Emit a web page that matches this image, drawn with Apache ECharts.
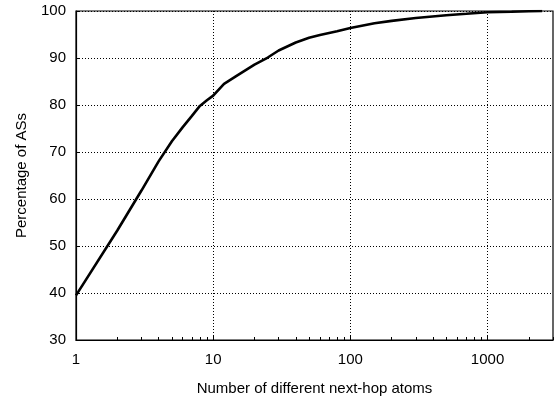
<!DOCTYPE html>
<html>
<head>
<meta charset="utf-8">
<script src="https://cdn.jsdelivr.net/npm/echarts@6/dist/echarts.min.js"></script>
<style>
html,body{margin:0;padding:0;background:#fff;}
#chart{width:558px;height:401px;}
</style>
</head>
<body>
<div id="chart"></div>
<script>
// Data (CDF)
const atoms = [1, 2, 3, 4, 5, 6, 7, 8, 9, 10, 12, 15, 20, 25, 30, 40, 50, 60, 80, 100, 150, 200, 300, 500, 700, 1000, 1500, 2000, 2500];
const percentAS = [39.5, 53.3, 61.8, 68.0, 72.3, 75.3, 77.7, 79.8, 81.0, 82.0, 84.5, 86.3, 88.6, 90.1, 91.6, 93.3, 94.3, 94.9, 95.7, 96.4, 97.4, 97.9, 98.5, 99.1, 99.4, 99.75, 99.85, 99.95, 100];
const xMajorTicks = [1, 10, 100, 1000];
const xMinorTicks = [2, 3, 4, 5, 6, 7, 8, 9, 20, 30, 40, 50, 60, 70, 80, 90, 200, 300, 400, 500, 600, 700, 800, 900, 2000, 3000];
const yTicks = [30, 40, 50, 60, 70, 80, 90, 100];

const FONT = 'Liberation Sans, Arial, Helvetica, sans-serif';
const chart = echarts.init(document.getElementById('chart'), null, {renderer: 'canvas'});
const seriesData = atoms.map((a, i) => [a, percentAS[i]]);

chart.setOption({
  animation: false,
  backgroundColor: '#fff',
  grid: {left: 76, top: 11, width: 477, height: 336, show: true, borderColor: '#000', borderWidth: 1.2, backgroundColor: 'transparent'},
  xAxis: [
    {
      type: 'log', logBase: 10, min: 1, max: 3000, position: 'bottom',
      name: 'Number of different next-hop atoms', nameLocation: 'middle', nameGap: 41,
      nameTextStyle: {fontFamily: FONT, fontSize: 15, color: '#000'},
      axisLine: {show: true, lineStyle: {color: '#000', width: 1.2}},
      axisTick: {show: true, inside: true, length: 5, customValues: xMajorTicks, lineStyle: {color: '#000', width: 1}},
      axisLabel: {customValues: xMajorTicks, formatter: v => String(v), fontFamily: FONT, fontSize: 15, color: '#000', margin: 12},
      splitLine: {show: true, lineStyle: {color: '#000', width: 1, type: [1, 2]}},
      minorTick: {show: false}
    },
    {
      type: 'log', logBase: 10, min: 1, max: 3000, position: 'bottom',
      axisLine: {show: false},
      axisTick: {show: true, inside: true, length: 3, customValues: xMinorTicks, lineStyle: {color: '#000', width: 1}},
      axisLabel: {show: false},
      splitLine: {show: false}
    }
  ],
  yAxis: {
    type: 'value', min: 30, max: 100, interval: 10,
    name: 'Percentage of ASs', nameLocation: 'middle', nameGap: 47,
    nameTextStyle: {fontFamily: FONT, fontSize: 15, color: '#000'},
    axisLine: {show: true, lineStyle: {color: '#000', width: 1.2}},
    axisTick: {show: true, inside: true, length: 4, lineStyle: {color: '#000'}},
    axisLabel: {fontFamily: FONT, fontSize: 15, color: '#000', margin: 10},
    splitLine: {show: true, lineStyle: {color: '#000', width: 1, type: [1, 2]}}
  },
  series: [{
    type: 'line', xAxisIndex: 0, data: seriesData, showSymbol: false, smooth: false,
    lineStyle: {color: '#000', width: 2.6}, z: 5
  }]
});
</script>
</body>
</html>
